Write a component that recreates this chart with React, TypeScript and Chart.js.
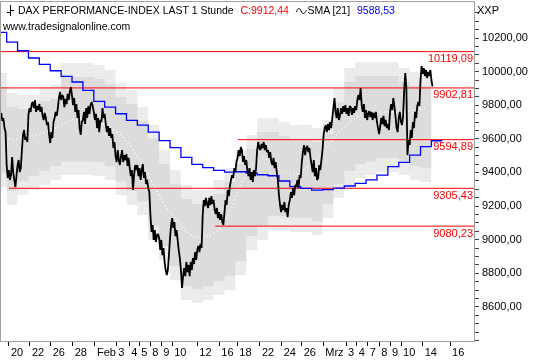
import React, { useEffect, useRef } from 'react';
import { Chart, registerables } from 'chart.js';

Chart.register(...registerables);

const FONT = '"Liberation Sans", Arial, sans-serif';

// x axis: trading days counted from Jan 20 (= day 0)
const X_MIN = -0.52;
const X_MAX = 42.91;
const Y_MIN = 8396.5;
const Y_MAX = 10414.3;

const xTickDays = [0.21, 2.14, 4.04, 6.06, 8.11, 10.06, 11.26, 12.18, 13.19, 14.2, 15.2, 17.5, 19.52, 21.18, 23.26, 25.25, 27.09, 29.07, 31.16, 32.14, 33.15, 34.21, 35.2, 36.21, 38.2, 40.71];
const xTickLabels = ['20', '22', '26', '28', 'Feb', '3', '4', '5', '8', '9', '10', '12', '16', '18', '22', '24', '26', 'Mrz', '3', '4', '7', '8', '9', '10', '14', '16'];

const yLabelValues = [8600, 8800, 9000, 9200, 9400, 9600, 9800, 10000, 10200];
const yMinorFrom = 8400;
const yMinorTo = 10350;
const yMinorStep = 50;

// hourly-ish closes, 10 samples per trading day, first sample at day -0.5
const PRICE_START = -0.5;
const PRICE_STEP = 0.1;
const priceValues = [
  9754, 9706, 9724, 9664, 9640,
  9444, 9367, 9414, 9355, 9384, 9492, 9402, 9355, 9313, 9378,
  9444, 9474, 9402, 9426, 9533, 9623, 9652, 9593, 9611, 9581,
  9742, 9783, 9760, 9807, 9819, 9783, 9831, 9760, 9795, 9771,
  9807, 9760, 9789, 9736, 9712, 9754, 9724, 9682, 9700, 9623,
  9575, 9640, 9605, 9700, 9724, 9760, 9736, 9783, 9843, 9879,
  9831, 9861, 9849, 9789, 9837, 9807, 9867, 9831, 9879, 9908,
  9855, 9801, 9843, 9760, 9807, 9724, 9771, 9664, 9623, 9700,
  9712, 9760, 9688, 9783, 9724, 9795, 9748, 9801, 9819, 9795,
  9760, 9712, 9748, 9664, 9724, 9640, 9712, 9700, 9783, 9724,
  9748, 9688, 9640, 9676, 9617, 9664, 9605, 9628, 9545, 9581,
  9497, 9462, 9533, 9474, 9444, 9497, 9533, 9462, 9503, 9474,
  9509, 9438, 9486, 9426, 9378, 9414, 9295, 9384, 9444, 9414,
  9444, 9378, 9426, 9355, 9414, 9450, 9367, 9402, 9331, 9355,
  9307, 9283, 9146, 9045, 9087, 8998, 9057, 8986, 9027, 9033,
  9010, 8938, 8998, 8908, 8950, 8867, 8819, 8789, 8819, 8908,
  9010, 9087, 9128, 9069, 9105, 9021, 9057, 8998, 8938, 8890,
  8819, 8712, 8783, 8831, 8783, 8867, 8807, 8849, 8783, 8867,
  8819, 8890, 8855, 8926, 8879, 8938, 8962, 8926, 8974, 8950,
  9146, 9236, 9200, 9248, 9212, 9188, 9248, 9206, 9259, 9212,
  9236, 9176, 9152, 9188, 9128, 9164, 9117, 9152, 9105, 9087,
  9164, 9236, 9206, 9295, 9259, 9319, 9355, 9384, 9367, 9426,
  9402, 9462, 9486, 9533, 9497, 9551, 9533, 9462, 9497, 9444,
  9474, 9414, 9378, 9426, 9355, 9402, 9343, 9414, 9378, 9426,
  9533, 9581, 9545, 9533, 9569, 9545, 9581, 9533, 9563, 9521,
  9533, 9486, 9521, 9462, 9444, 9486, 9426, 9462, 9402, 9355,
  9265, 9206, 9164, 9206, 9176, 9224, 9164, 9188, 9134, 9206,
  9236, 9283, 9248, 9307, 9265, 9325, 9319, 9355, 9307, 9384,
  9367, 9462, 9521, 9563, 9503, 9545, 9557, 9521, 9545, 9486,
  9444, 9402, 9474, 9378, 9426, 9355, 9367, 9444, 9414, 9474,
  9533, 9623, 9664, 9682, 9640, 9688, 9652, 9700, 9664, 9724,
  9783, 9843, 9760, 9724, 9783, 9712, 9736, 9783, 9748, 9795,
  9760, 9801, 9748, 9783, 9736, 9795, 9789, 9742, 9783, 9754,
  9795, 9771, 9831, 9861, 9831, 9902, 9801, 9760, 9807, 9724,
  9771, 9712, 9748, 9765, 9730, 9760, 9712, 9754, 9724, 9760,
  9700, 9664, 9628, 9676, 9724, 9688, 9736, 9676, 9712, 9664,
  9688, 9652, 9760, 9807, 9771, 9843, 9795, 9736, 9664, 9640,
  9724, 9760, 9700, 9682, 9736, 9890, 9992, 9902, 9503, 9593,
  9563, 9652, 9605, 9700, 9664, 9760, 9724, 9795, 9819, 9795,
  9950, 10033, 9986, 10021, 9974, 10010, 9962, 9998, 9974, 10010, 9950, 9912.44,
];

// daily step series, first value is day -1
const DAILY_START = -1;
const smaValues = [10234, 10176, 10124, 10081, 10043, 10005, 9972, 9938, 9888, 9823, 9788, 9749, 9710, 9682, 9640, 9589, 9547, 9490, 9448, 9428, 9412, 9402, 9404, 9395, 9386, 9380, 9349, 9315, 9305, 9295, 9297, 9307, 9319, 9335, 9356, 9384, 9434, 9460, 9503, 9553, 9588.53];
const bandOuterTop = [9992, 9873, 9861, 9861, 9908, 9920, 10051, 10051, 10051, 10039, 10010, 9932, 9890, 9789, 9682, 9533, 9414, 9325, 9295, 9295, 9355, 9426, 9533, 9623, 9724, 9724, 9700, 9682, 9682, 9664, 9712, 9902, 10021, 10057, 10057, 10057, 10057, 10021, 9998, 9998];
const bandInnerTop = [9909, 9790, 9778, 9778, 9825, 9837, 9968, 9968, 9968, 9956, 9927, 9849, 9807, 9706, 9599, 9450, 9331, 9242, 9212, 9212, 9272, 9343, 9450, 9540, 9641, 9641, 9617, 9599, 9599, 9581, 9629, 9819, 9938, 9974, 9974, 9974, 9974, 9938, 9915, 9915];
const bandInnerBottom = [9396, 9289, 9348, 9378, 9408, 9438, 9467, 9467, 9467, 9461, 9438, 9348, 9289, 9229, 9081, 8962, 8842, 8723, 8706, 8723, 8753, 8783, 8872, 9021, 9081, 9140, 9140, 9128, 9128, 9110, 9211, 9331, 9408, 9450, 9467, 9485, 9485, 9467, 9438, 9426];
const bandOuterBottom = [9313, 9206, 9265, 9295, 9325, 9355, 9384, 9384, 9384, 9378, 9355, 9265, 9206, 9146, 8998, 8879, 8759, 8640, 8623, 8640, 8670, 8700, 8789, 8938, 8998, 9057, 9057, 9045, 9045, 9027, 9128, 9248, 9325, 9367, 9384, 9402, 9402, 9384, 9355, 9343];
const bandMid = [9623, 9593, 9605, 9617, 9640, 9664, 9700, 9724, 9724, 9700, 9664, 9623, 9545, 9444, 9325, 9206, 9128, 9045, 9010, 9021, 9057, 9164, 9325, 9444, 9486, 9462, 9402, 9384, 9426, 9474, 9563, 9640, 9700, 9742, 9760, 9760, 9760, 9760, 9771, 9783];

const levelValues = [10119.09, 9902.81, 9594.89, 9305.43, 9080.23];
const levelStartDays = [-0.6, -0.6, 21.24, 0.21, 19.16];

const fmt = (v: number) => v.toFixed(2).replace('.', ',');

const stepData = (arr: number[]) => {
  const pts = arr.map((v, i) => ({ x: DAILY_START + i, y: v }));
  pts.push({ x: DAILY_START + arr.length, y: arr[arr.length - 1] });
  return pts;
};

const levelLabels = {
  id: 'levelLabels',
  afterDatasetsDraw(chart: any) {
    const { ctx, chartArea, scales } = chart;
    ctx.save();
    ctx.font = '11px ' + FONT;
    ctx.fillStyle = '#ff0000';
    ctx.textAlign = 'right';
    ctx.textBaseline = 'alphabetic';
    levelValues.forEach((v) => {
      const py = scales.y.getPixelForValue(v);
      ctx.fillText(fmt(v), chartArea.right - 1, py + 10.5);
    });
    ctx.restore();
  },
};

const frame = {
  id: 'frame',
  afterDraw(chart: any) {
    const { ctx, chartArea } = chart;
    ctx.save();
    ctx.strokeStyle = '#a0a0a0';
    ctx.lineWidth = 1;
    ctx.strokeRect(chartArea.left - 0.5, chartArea.top - 0.5, chartArea.right - chartArea.left + 1, chartArea.bottom - chartArea.top + 1);
    ctx.restore();
  },
};

function makePattern(): any {
  const c = document.createElement('canvas');
  c.width = 4;
  c.height = 4;
  const g = c.getContext('2d')!;
  g.fillStyle = '#ececec';
  g.fillRect(0, 0, 4, 4);
  g.fillStyle = '#e2e2e2';
  g.fillRect(1, 1, 1, 1);
  return g.createPattern(c, 'repeat');
}

export default function App() {
  const ref = useRef<HTMLCanvasElement>(null);

  useEffect(() => {
    document.body.style.margin = '0';
    const canvas = ref.current!;
    const light = makePattern();
    const hidden = 'rgba(0,0,0,0)';
    const priceData = priceValues.map((v, i) => ({ x: PRICE_START + i * PRICE_STEP, y: v }));
    const levelSets = levelValues.map((v, i) => ({
      data: [{ x: levelStartDays[i], y: v }, { x: X_MAX + 1, y: v }],
      borderColor: '#ff0000',
      borderWidth: 1,
      pointRadius: 0,
      fill: false,
    }));

    const chart = new Chart(canvas, {
      type: 'line',
      data: {
        datasets: [
          { data: priceData, borderColor: '#000', borderWidth: 1.8, pointRadius: 0, tension: 0, borderJoinStyle: 'bevel', fill: false },
          { data: stepData(smaValues), borderColor: '#0000ff', borderWidth: 1.3, pointRadius: 0, stepped: true, fill: false },
          ...levelSets,
          { data: bandMid.map((v, i) => ({ x: DAILY_START + i + 0.5, y: v })), borderColor: '#ffffff', borderWidth: 1.5, borderDash: [1, 3], pointRadius: 0, fill: false },
          { data: stepData(bandInnerTop), borderColor: hidden, borderWidth: 0, pointRadius: 0, stepped: true, fill: '+1', backgroundColor: '#dcdcdc' },
          { data: stepData(bandInnerBottom), borderColor: hidden, borderWidth: 0, pointRadius: 0, stepped: true, fill: false },
          { data: stepData(bandOuterTop), borderColor: hidden, borderWidth: 0, pointRadius: 0, stepped: true, fill: '+1', backgroundColor: light },
          { data: stepData(bandOuterBottom), borderColor: hidden, borderWidth: 0, pointRadius: 0, stepped: true, fill: false },
        ] as any,
      },
      options: {
        responsive: false,
        animation: false,
        devicePixelRatio: 1,
        events: [],
        layout: { padding: { left: 1, top: 2, right: 0, bottom: 0 } },
        plugins: { legend: { display: false }, tooltip: { enabled: false } },
        scales: {
          x: {
            type: 'linear',
            position: 'bottom',
            min: X_MIN,
            max: X_MAX,
            afterFit: (s: any) => { s.height = 19; s.paddingLeft = 0; s.paddingRight = 0; },
            afterBuildTicks: (s: any) => { s.ticks = xTickDays.map((v) => ({ value: v })); },
            ticks: {
              autoSkip: false,
              maxRotation: 0,
              align: 'start',
              labelOffset: 2,
              padding: 0,
              color: '#000',
              font: { family: FONT, size: 11 },
              callback: (_v: any, i: number) => xTickLabels[i],
            },
            grid: { drawOnChartArea: false, drawTicks: true, tickLength: 5, color: '#000' },
            border: { display: false },
          },
          y: {
            type: 'linear',
            position: 'right',
            min: Y_MIN,
            max: Y_MAX,
            afterFit: (s: any) => { s.width = 66; s.paddingTop = 0; s.paddingBottom = 0; },
            afterBuildTicks: (s: any) => {
              const t: any[] = [];
              for (let v = yMinorFrom; v <= yMinorTo; v += yMinorStep) t.push({ value: v });
              s.ticks = t;
            },
            ticks: {
              autoSkip: false,
              padding: 3,
              color: '#000',
              font: { family: FONT, size: 11 },
              callback: (v: any) => (yLabelValues.includes(Number(v)) ? fmt(Number(v)) : ''),
            },
            grid: { drawOnChartArea: false, drawTicks: true, tickLength: 5, color: '#404040' },
            border: { display: false },
          },
        },
      } as any,
      plugins: [levelLabels, frame],
    });
    return () => chart.destroy();
  }, []);

  const hdr: React.CSSProperties = {
    position: 'absolute',
    top: 4,
    fontFamily: FONT,
    fontSize: 10.5,
    lineHeight: '13px',
    whiteSpace: 'nowrap',
    color: '#000',
  };
  const lastClose = priceValues[priceValues.length - 1];
  const lastSma = smaValues[smaValues.length - 1];

  return (
    <div style={{ position: 'fixed', left: 0, top: 0, width: 540, height: 360, background: '#fff', overflow: 'hidden' }}>
      <canvas ref={ref} width={540} height={360} style={{ position: 'absolute', left: 0, top: 0, width: 540, height: 360 }} />
      <svg style={{ position: 'absolute', left: 6, top: 4 }} width={9} height={13}>
        <path d="M4.5 1 V12 M1 8.5 H4.5 M4.5 6.5 H8" stroke="#000" strokeWidth={1} fill="none" />
      </svg>
      <span style={{ ...hdr, left: 18 }}>DAX PERFORMANCE-INDEX LAST 1 Stunde</span>
      <span style={{ ...hdr, left: 240.5, color: '#ff0000' }}>{'C:' + fmt(lastClose)}</span>
      <svg style={{ position: 'absolute', left: 296, top: 7 }} width={12} height={8}>
        <path d="M0.5 5 C2 0.5, 3.5 0.5, 5 4 S8 7.5, 10.5 3" stroke="#000" strokeWidth={1} fill="none" />
      </svg>
      <span style={{ ...hdr, left: 307.5 }}>SMA [21]</span>
      <span style={{ ...hdr, left: 357, color: '#0000ff' }}>{fmt(lastSma)}</span>
      <span style={{ ...hdr, left: 3, top: 20 }}>www.tradesignalonline.com</span>
      <span style={{ ...hdr, left: 477, fontSize: 11 }}>XXP</span>
    </div>
  );
}
